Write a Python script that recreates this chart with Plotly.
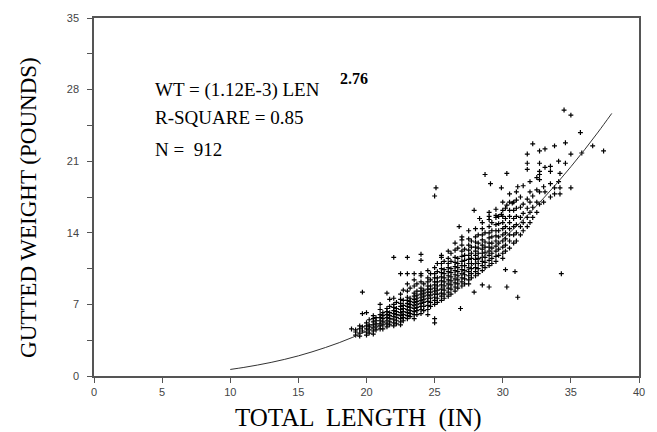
import plotly.graph_objects as go

# Fitted curve (WT = 1.12E-3 * LEN^2.76), values at integer lengths
CURVE_LEN = [10, 11, 12, 13, 14, 15, 16, 17, 18, 19, 20, 21, 22, 23, 24, 25, 26, 27, 28, 29,
             30, 31, 32, 33, 34, 35, 36, 37, 38]
CURVE_WT = [0.64, 0.84, 1.07, 1.33, 1.63, 1.97, 2.36, 2.79, 3.26, 3.79, 4.37, 5.00, 5.68, 6.42,
            7.22, 8.08, 9.01, 10.00, 11.05, 12.17, 13.37, 14.63, 15.97, 17.39, 18.88, 20.46,
            22.11, 23.85, 25.67]

# Observed fish (total length in inches, gutted weight in pounds), grouped by length column
COLUMNS = [
    (18.9, [4.6]),
    (19.2, [4.0, 4.3, 4.5]),
    (19.5, [3.9, 4.2, 4.6, 4.9]),
    (19.7, [8.2, 6.1, 4.4, 4.8]),
    (20.0, [4.0, 4.3, 4.6, 4.9, 5.2, 6.2]),
    (20.2, [4.2, 4.5, 4.8, 5.0, 5.5]),
    (20.5, [4.1, 4.4, 4.7, 5.0, 5.3, 5.6, 5.9]),
    (20.7, [4.5, 4.8, 5.1, 5.4, 5.7]),
    (21.0, [4.6, 4.9, 5.1, 5.4, 5.7, 6.0, 6.5, 7.0]),
    (21.2, [4.6, 5.0, 5.3, 5.6, 5.9, 6.2]),
    (21.5, [4.8, 5.1, 5.4, 5.7, 6.0, 6.3, 6.6, 8.1]),
    (21.7, [5.0, 5.3, 5.6, 5.9, 6.2, 6.8, 7.5]),
    (22.0, [4.9, 5.2, 5.5, 5.8, 6.1, 6.4, 6.7, 7.0, 7.6, 11.6]),
    (22.2, [5.1, 5.4, 5.7, 6.0, 6.3, 6.6, 7.2]),
    (22.5, [5.0, 5.3, 5.6, 5.9, 6.2, 6.5, 6.8, 7.1, 7.5, 8.0, 10.0]),
    (22.7, [5.4, 5.7, 6.0, 6.3, 6.6, 6.9, 7.4, 8.4]),
    (23.0, [5.6, 5.9, 6.2, 6.5, 6.8, 7.1, 7.4, 7.7, 8.3, 9.0, 10.0, 11.6]),
    (23.2, [5.8, 6.1, 6.4, 6.7, 7.0, 7.3, 7.6, 8.6]),
    (23.5, [5.6, 6.0, 6.3, 6.6, 6.9, 7.2, 7.5, 7.8, 8.1, 8.8, 9.4, 10.0]),
    (23.7, [6.0, 6.4, 6.7, 7.0, 7.3, 7.6, 7.9, 8.3, 9.0]),
    (24.0, [6.1, 6.5, 6.8, 7.1, 7.4, 7.7, 8.0, 8.3, 8.6, 9.2, 9.8, 10.0, 11.3, 11.9]),
    (24.2, [6.4, 6.8, 7.2, 7.5, 7.8, 8.1, 8.4, 9.0]),
    (24.5, [6.0, 6.5, 6.9, 7.3, 7.6, 7.9, 8.2, 8.5, 8.8, 9.2, 9.6, 10.3]),
    (24.7, [6.8, 7.2, 7.6, 7.9, 8.2, 8.5, 8.8, 9.4, 10.0]),
    (25.0, [5.2, 5.6, 7.0, 7.4, 7.7, 8.0, 8.3, 8.6, 8.9, 9.2, 9.6, 10.0, 10.6, 17.6]),
    (25.1, [18.4]),
    (25.2, [7.2, 7.6, 8.0, 8.4, 8.8, 9.2, 9.6, 10.2, 11.0]),
    (25.5, [7.4, 7.8, 8.1, 8.5, 8.9, 9.3, 9.7, 10.1, 10.5, 11.0, 11.6, 11.8]),
    (25.7, [7.6, 8.0, 8.4, 8.8, 9.2, 9.6, 10.0, 10.4, 11.2]),
    (26.0, [7.8, 8.2, 8.6, 9.0, 9.4, 9.8, 10.2, 10.6, 11.0, 11.5, 12.2]),
    (26.2, [8.0, 8.5, 8.9, 9.3, 9.7, 10.1, 10.5, 11.2, 12.0]),
    (26.5, [8.3, 8.7, 9.1, 9.5, 9.9, 10.3, 10.7, 11.1, 11.6, 12.3, 13.0]),
    (26.7, [8.6, 9.0, 9.4, 9.8, 10.2, 10.6, 11.0, 11.5, 12.5]),
    (26.8, [14.6]),
    (26.9, [6.6]),
    (27.0, [8.8, 9.2, 9.6, 10.0, 10.4, 10.8, 11.2, 11.7, 12.2, 12.8, 13.3, 13.6]),
    (27.2, [9.0, 9.5, 9.9, 10.3, 10.8, 11.3, 11.8, 12.4]),
    (27.5, [9.0, 9.4, 9.8, 10.2, 10.6, 11.0, 11.4, 11.8, 12.3, 12.8, 13.4, 14.2]),
    (27.7, [9.6, 10.0, 10.5, 11.0, 11.5, 12.0, 12.6, 13.2]),
    (27.9, [8.2, 16.2]),
    (28.0, [9.8, 10.2, 10.6, 11.0, 11.4, 11.8, 12.2, 12.6, 13.1, 13.6, 14.4]),
    (28.2, [10.0, 10.5, 11.0, 11.5, 12.0, 12.5, 13.0, 13.8]),
    (28.3, [15.4]),
    (28.5, [8.9, 10.3, 10.8, 11.2, 11.6, 12.0, 12.4, 12.8, 13.3, 13.8, 14.4, 15.0]),
    (28.7, [10.6, 11.1, 11.6, 12.1, 12.6, 13.1, 14.0, 19.7]),
    (29.0, [8.7, 10.8, 11.3, 11.8, 12.2, 12.6, 13.0, 13.5, 14.0, 14.6, 15.3, 15.6, 16.0]),
    (29.1, [18.8]),
    (29.2, [11.0, 11.5, 12.0, 12.5, 13.0, 13.6, 14.2, 15.0]),
    (29.5, [11.2, 11.7, 12.2, 12.7, 13.2, 13.7, 14.2, 14.8, 15.5, 15.7, 16.3]),
    (29.7, [11.8, 12.4, 13.0, 13.6, 14.2, 14.9, 15.6]),
    (29.9, [15.8, 18.4]),
    (30.0, [11.5, 12.0, 12.6, 13.2, 13.8, 14.4, 15.0, 15.6, 16.2, 17.0]),
    (30.2, [10.4, 12.2, 12.8, 13.4, 14.0, 14.6, 15.4, 16.4]),
    (30.3, [8.7, 16.7, 19.8]),
    (30.5, [12.5, 13.2, 13.8, 14.4, 15.0, 15.6, 16.2, 17.0, 17.8]),
    (30.7, [16.9]),
    (30.8, [13.0, 13.8, 14.6, 15.4, 16.2, 17.0]),
    (30.9, [10.2]),
    (31.0, [13.2, 14.0, 14.8, 15.6, 16.4, 17.2, 18.0]),
    (31.1, [7.7, 18.5]),
    (31.3, [13.8, 14.6, 15.5, 16.5, 17.5]),
    (31.5, [14.2, 15.0, 15.9, 16.8, 18.6]),
    (31.8, [14.6, 15.5, 16.4, 17.3, 20.2, 20.8, 21.7]),
    (32.0, [15.0, 16.0, 17.0, 18.0, 19.0]),
    (32.2, [15.5, 16.5, 17.6, 22.7]),
    (32.5, [16.0, 17.0, 18.2, 19.4]),
    (32.7, [16.8, 18.0, 19.2, 19.7, 20.0, 20.8, 22.0]),
    (33.0, [17.0, 18.5]),
    (33.1, [18.0, 20.4, 22.2]),
    (33.5, [17.5, 18.8, 20.0, 20.5]),
    (33.8, [17.8, 18.4, 22.5]),
    (34.1, [19.0, 21.0]),
    (34.2, [17.8, 18.4, 19.8]),
    (34.3, [10.0]),
    (34.5, [26.0]),
    (34.6, [20.8, 22.8]),
    (35.0, [18.4, 21.7, 25.5]),
    (35.7, [23.8]),
    (35.8, [21.8]),
    (36.6, [22.5]),
    (37.4, [22.0]),
]

LENGTH = [c[0] for c in COLUMNS for _ in c[1]]
WEIGHT = [w for c in COLUMNS for w in c[1]]

X_TICKS = [0, 5, 10, 15, 20, 25, 30, 35, 40]
Y_TICKS = [0, 7, 14, 21, 28, 35]

SERIF = "Liberation Serif, Times New Roman, serif"
SANS = "Liberation Sans, Arial, sans-serif"

fig = go.Figure()
fig.add_trace(go.Scatter(
    x=LENGTH, y=WEIGHT, mode="markers",
    marker=dict(symbol="cross-thin", size=3.5, line=dict(width=1.2, color="#000000"), color="#000000"),
    hoverinfo="skip", showlegend=False,
))
fig.add_trace(go.Scatter(
    x=CURVE_LEN, y=CURVE_WT, mode="lines",
    line=dict(color="#333333", width=1), line_shape="spline",
    hoverinfo="skip", showlegend=False,
))

TXT = dict(family=SERIF, size=19, color="#000000")
fig.add_annotation(x=4.3, y=28.0, xref="x", yref="y", xanchor="left", yanchor="middle",
                   text="WT = (1.12E-3) LEN", showarrow=False, font=TXT)
fig.add_annotation(x=17.9, y=29.1, xref="x", yref="y", xanchor="left", yanchor="middle",
                   text="<b>2.76</b>", showarrow=False,
                   font=dict(family=SERIF, size=16, color="#000000"))
fig.add_annotation(x=4.3, y=25.3, xref="x", yref="y", xanchor="left", yanchor="middle",
                   text="R-SQUARE = 0.85", showarrow=False, font=TXT)
fig.add_annotation(x=4.3, y=22.1, xref="x", yref="y", xanchor="left", yanchor="middle",
                   text="N =  912", showarrow=False, font=TXT)

# Axis titles placed as annotations (pixel-matched positions)
fig.add_annotation(x=(359.5 - 94) / 547, y=-(418 - 376) / 358.5, xref="paper", yref="paper",
                   xanchor="center", yanchor="middle", showarrow=False,
                   text="TOTAL  LENGTH  (IN)", font=dict(family=SERIF, size=25, color="#000000"))
fig.add_annotation(x=-(94 - 28) / 547, y=(376 - 207.5) / 358.5, xref="paper", yref="paper",
                   xanchor="center", yanchor="middle", showarrow=False, textangle=-90,
                   text="GUTTED WEIGHT (POUNDS)", font=dict(family=SERIF, size=23, color="#000000"))

axis_common = dict(
    showline=True, linecolor="#555555", linewidth=1.5, mirror=True,
    showgrid=False, zeroline=False, ticks="outside", ticklen=5, tickwidth=1,
    tickcolor="#555555", tickfont=dict(family=SANS, size=11, color="#444444"),
)

fig.update_xaxes(range=[0, 40], tickvals=X_TICKS, ticktext=[str(v) for v in X_TICKS], **axis_common)
fig.update_yaxes(
    range=[0, 35], tickvals=Y_TICKS, ticktext=[str(v) for v in Y_TICKS],
    minor=dict(dtick=3.5, tick0=0, ticks="outside", ticklen=5, tickcolor="#555555"),
    ticklabelstandoff=6,
    **axis_common,
)

fig.update_layout(
    width=657, height=432,
    margin=dict(l=94, r=16, t=18, b=56),
    paper_bgcolor="white", plot_bgcolor="white",
    showlegend=False,
)

fig.write_html("out.html")
